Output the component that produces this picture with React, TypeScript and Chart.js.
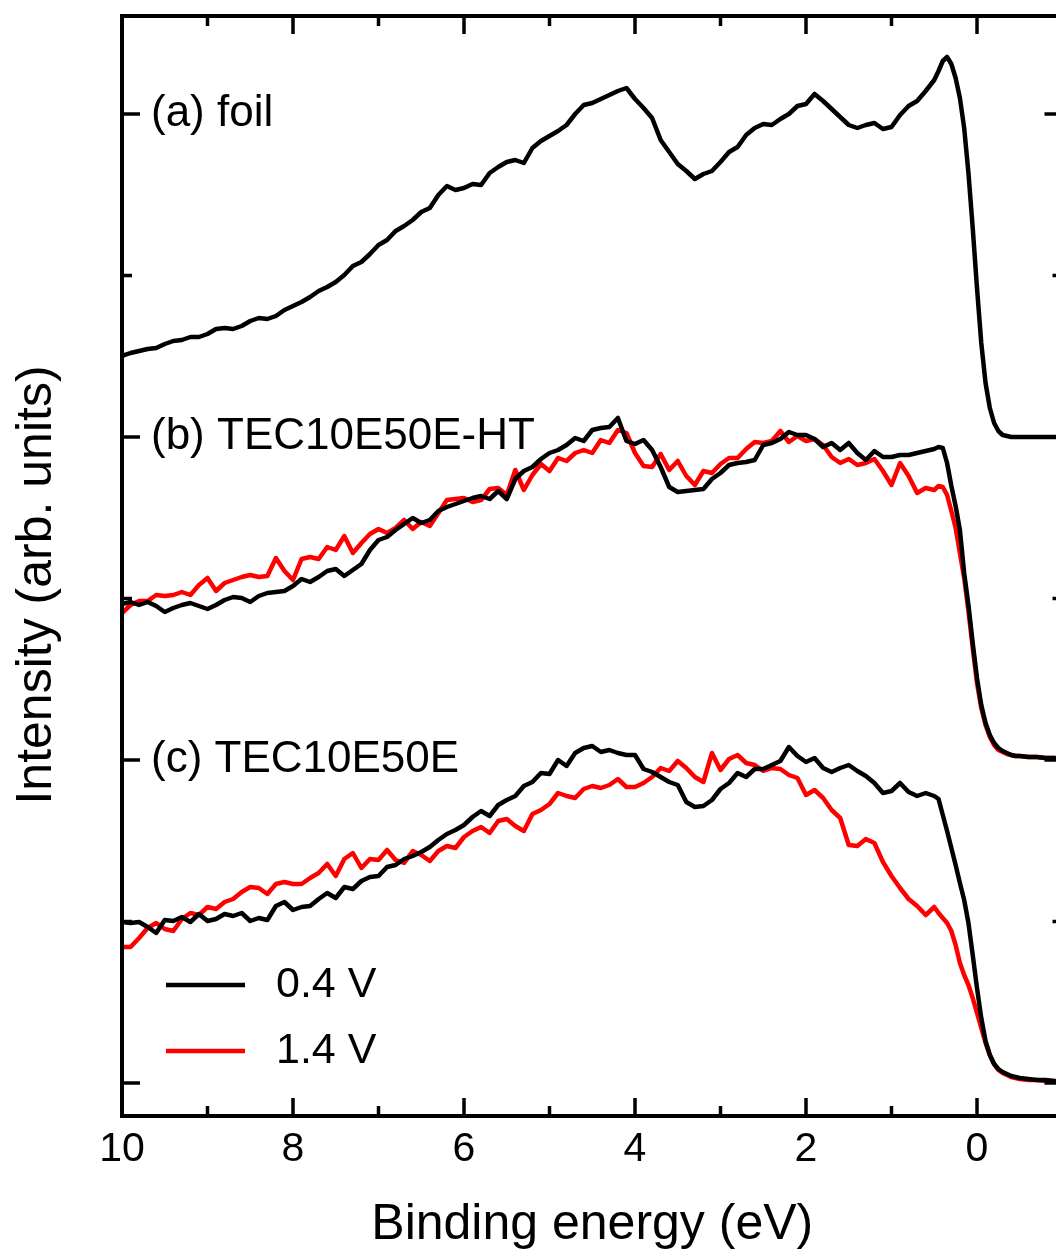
import React, { useEffect, useRef } from "react";
import { Chart, registerables } from "chart.js";

Chart.register(...registerables);

// Binding energy grid (eV); finer near the Fermi edge
const energy = [
  10.0, 9.9, 9.8, 9.7, 9.6, 9.5, 9.4, 9.3, 9.2, 9.1,
  9.0, 8.9, 8.8, 8.7, 8.6, 8.5, 8.4, 8.3, 8.2, 8.1,
  8.0, 7.9, 7.8, 7.7, 7.6, 7.5, 7.4, 7.3, 7.2, 7.1,
  7.0, 6.9, 6.8, 6.7, 6.6, 6.5, 6.4, 6.3, 6.2, 6.1,
  6.0, 5.9, 5.8, 5.7, 5.6, 5.5, 5.4, 5.3, 5.2, 5.1,
  5.0, 4.9, 4.8, 4.7, 4.6, 4.5, 4.4, 4.3, 4.2, 4.1,
  4.0, 3.9, 3.8, 3.7, 3.6, 3.5, 3.4, 3.3, 3.2, 3.1,
  3.0, 2.9, 2.8, 2.7, 2.6, 2.5, 2.4, 2.3, 2.2, 2.1,
  2.0, 1.9, 1.8, 1.7, 1.6, 1.5, 1.4, 1.3, 1.2, 1.1,
  1.0, 0.9, 0.8, 0.7, 0.6, 0.5, 0.45, 0.4, 0.35, 0.3,
  0.25, 0.2, 0.15, 0.1, 0.05, 0.0, -0.05, -0.1, -0.15, -0.2,
  -0.25, -0.3, -0.35, -0.4, -0.45, -0.5, -0.6, -0.7, -0.8, -0.9,
  -1.0,
];

// (a) foil
const foil = [
  727, 730, 732, 734, 735, 739, 742, 743, 746, 746,
  749, 754, 755, 754, 757, 762, 765, 764, 767, 773,
  777, 781, 786, 792, 796, 801, 808, 817, 821, 829,
  838, 843, 852, 857, 863, 871, 875, 888, 897, 893,
  895, 899, 898, 910, 916, 921, 923, 920, 935, 942,
  947, 952, 958, 969, 978, 980, 984, 988, 992, 995,
  984, 975, 965, 943, 931, 919, 912, 904, 909, 912,
  921, 931, 936, 948, 955, 959, 958, 964, 969, 977,
  979, 989, 982, 974, 966, 958, 955, 958, 960, 954,
  956, 968, 977, 982, 992, 1003, 1012, 1022, 1026, 1019,
  1005, 985, 955, 910, 855, 795, 740, 700, 675, 660,
  652, 648, 647, 646, 646, 646, 646, 646, 646, 646,
  646,
];

// (b) TEC10E50E-HT, 0.4 V
const htLow = [
  479, 481, 478, 481, 477, 471, 475, 478, 480, 477,
  474, 478, 483, 486, 485, 481, 487, 490, 491, 492,
  497, 504, 501, 506, 512, 514, 507, 513, 519, 533,
  543, 546, 553, 559, 565, 560, 563, 572, 576, 579,
  582, 585, 587, 584, 592, 584, 604, 612, 616, 624,
  630, 633, 638, 645, 642, 653, 655, 656, 665, 642,
  639, 643, 633, 616, 596, 591, 592, 593, 594, 604,
  610, 618, 620, 621, 623, 638, 640, 644, 651, 648,
  648, 644, 636, 640, 633, 640, 630, 623, 632, 626,
  626, 628, 628, 630, 632, 634, 636, 635, 620, 597,
  577, 553, 510, 478, 440, 405, 378, 360, 348, 340,
  335, 332, 330, 328, 327, 327, 326, 326, 325, 325,
  324,
];

// (b) TEC10E50E-HT, 1.4 V
const htHigh = [
  470, 478, 482, 482, 488, 487, 488, 491, 488, 498,
  505, 492, 500, 503, 506, 508, 506, 507, 525, 512,
  503, 524, 526, 524, 536, 533, 547, 530, 540, 549,
  554, 550, 555, 563, 554, 561, 557, 570, 583, 584,
  585, 581, 583, 594, 595, 588, 613, 593, 608, 619,
  612, 625, 622, 630, 633, 630, 643, 640, 653, 650,
  630, 617, 616, 629, 613, 622, 607, 598, 612, 610,
  619, 625, 625, 634, 641, 640, 642, 652, 641, 647,
  642, 644, 638, 626, 620, 624, 618, 620, 624, 612,
  598, 620, 607, 590, 595, 593, 597, 596, 588, 572,
  555, 530, 505, 472, 435, 400, 375, 358, 346, 338,
  333, 331, 329, 328, 327, 327, 326, 326, 325, 325,
  324,
];

// (c) TEC10E50E, 0.4 V
const eLow = [
  161, 160, 161, 156, 150, 163, 162, 166, 161, 169,
  162, 164, 169, 167, 170, 162, 165, 163, 177, 181,
  173, 176, 177, 184, 190, 185, 196, 194, 202, 206,
  207, 216, 218, 224, 227, 231, 236, 243, 249, 253,
  258, 266, 272, 267, 278, 283, 287, 297, 301, 310,
  309, 323, 317, 330, 335, 337, 331, 333, 330, 328,
  328, 314, 311, 306, 301, 298, 281, 276, 277, 283,
  294, 300, 310, 306, 314, 314, 318, 322, 336, 327,
  321, 325, 315, 311, 315, 318, 312, 307, 300, 290,
  292, 300, 291, 287, 290, 287, 284, 268, 252, 235,
  218, 200, 183, 160, 128, 95, 65, 42, 28, 19,
  14, 11, 9, 7, 6, 5, 4, 3, 3, 2,
  1,
];

// (c) TEC10E50E, 1.4 V
const eHigh = [
  136, 136, 145, 155, 160, 154, 152, 164, 170, 168,
  176, 174, 181, 184, 191, 196, 195, 189, 199, 201,
  199, 199, 205, 210, 219, 207, 224, 230, 215, 224,
  223, 233, 223, 220, 232, 228, 222, 232, 237, 235,
  246, 252, 256, 250, 262, 264, 257, 252, 269, 273,
  279, 290, 287, 285, 294, 297, 295, 298, 304, 296,
  296, 300, 306, 315, 312, 322, 315, 306, 301, 330,
  313, 324, 328, 320, 318, 312, 315, 314, 308, 305,
  288, 293, 285, 273, 265, 238, 237, 244, 240, 221,
  207, 195, 184, 177, 168, 176, 170, 165, 160, 152,
  138, 120, 108, 98, 85, 70, 55, 40, 28, 19,
  13, 10, 8, 6, 5, 4, 3, 3, 2, 2,
  1,
];

const xMajorTicks = [10, 8, 6, 4, 2, 0];
const xMinorTicks = [9, 7, 5, 3, 1, -1];
const yMajorTicks = [0, 323, 646, 969];
const yMinorTicks = [161.5, 484.5, 807.5];
const panelLabels = ["(a) foil", "(b) TEC10E50E-HT", "(c) TEC10E50E"];
const panelLevels = [969, 646, 323];
const legendLabels = ["0.4 V", "1.4 V"];
const legendColors = ["#000000", "#ff0000"];

const FONT = '"Liberation Sans", Arial, Helvetica, sans-serif';

const toPoints = (vals: number[]) => energy.map((e, i) => ({ x: e, y: vals[i] }));

const decorPlugin = {
  id: "decor",
  afterDraw(chart: any) {
    const { ctx, chartArea: a } = chart;
    const xs = chart.scales.x;
    const ys = chart.scales.y;
    ctx.save();
    ctx.strokeStyle = "#000";
    ctx.lineWidth = 4;
    ctx.lineCap = "butt";
    ctx.strokeRect(a.left, a.top, a.right - a.left, a.bottom - a.top);
    const seg = (x1: number, y1: number, x2: number, y2: number) => {
      ctx.beginPath();
      ctx.moveTo(x1, y1);
      ctx.lineTo(x2, y2);
      ctx.stroke();
    };
    ctx.lineWidth = 3.5;
    const xt = (vals: number[], len: number) => {
      for (const v of vals) {
        const p = xs.getPixelForValue(v);
        seg(p, a.bottom, p, a.bottom - len);
        seg(p, a.top, p, a.top + len);
      }
    };
    const yt = (vals: number[], len: number) => {
      for (const v of vals) {
        const p = ys.getPixelForValue(v);
        seg(a.left, p, a.left + len, p);
        seg(a.right, p, a.right - len, p);
      }
    };
    xt(xMajorTicks, 18);
    xt(xMinorTicks, 10);
    yt(yMajorTicks, 18);
    yt(yMinorTicks, 10);

    ctx.fillStyle = "#000";
    ctx.textAlign = "left";
    ctx.textBaseline = "middle";
    ctx.font = `44px ${FONT}`;
    panelLabels.forEach((t, i) => {
      ctx.fillText(t, a.left + 29, ys.getPixelForValue(panelLevels[i]));
    });

    // legend
    ctx.font = `43px ${FONT}`;
    ctx.textBaseline = "alphabetic";
    const legY = [985, 1051];
    legendLabels.forEach((t, i) => {
      ctx.strokeStyle = legendColors[i];
      ctx.lineWidth = 4.5;
      seg(a.left + 44, legY[i], a.left + 123, legY[i]);
      ctx.fillText(t, a.left + 154, legY[i] + 12);
    });

    // y-axis title
    ctx.translate(37, 585);
    ctx.rotate(-Math.PI / 2);
    ctx.textAlign = "center";
    ctx.textBaseline = "middle";
    ctx.font = `50px ${FONT}`;
    ctx.fillText("Intensity (arb. units)", 0, 0);
    ctx.restore();
  },
};

export default function App() {
  const ref = useRef<HTMLCanvasElement | null>(null);
  useEffect(() => {
    if (!ref.current) return;
    const line = (vals: number[], color: string) => ({
      data: toPoints(vals),
      borderColor: color,
      backgroundColor: color,
      borderWidth: 4.5,
      pointRadius: 0,
      tension: 0,
      fill: false,
      borderJoinStyle: "round" as const,
      borderCapStyle: "round" as const,
    });
    const chart = new Chart(ref.current, {
      type: "line",
      data: {
        datasets: [
          line(foil, "#000000"),
          line(htLow, "#000000"),
          line(eLow, "#000000"),
          line(htHigh, "#ff0000"),
          line(eHigh, "#ff0000"),
        ],
      },
      options: {
        responsive: false,
        devicePixelRatio: 1,
        animation: false,
        layout: { padding: { left: 0, top: 16, right: 17.5, bottom: 0 } },
        plugins: { legend: { display: false }, tooltip: { enabled: false } },
        scales: {
          x: {
            type: "linear",
            reverse: true,
            min: -1,
            max: 10,
            grid: { display: false, drawTicks: false },
            border: { display: false },
            ticks: {
              color: "#000",
              font: { size: 41, family: FONT },
              padding: 9,
              autoSkip: false,
              maxRotation: 0,
            },
            afterBuildTicks: (s: any) => {
              s.ticks = xMajorTicks.map((v) => ({ value: v }));
            },
            afterFit: (s: any) => {
              s.height = 141;
            },
            title: {
              display: true,
              text: "Binding energy (eV)",
              color: "#000",
              font: { size: 50, family: FONT },
              padding: { top: 0, bottom: 2 },
            },
          },
          y: {
            type: "linear",
            min: -33,
            max: 1067,
            grid: { display: false, drawTicks: false },
            border: { display: false },
            ticks: { display: false },
            afterFit: (s: any) => {
              s.width = 122;
            },
          },
        },
      },
      plugins: [decorPlugin],
    });
    return () => chart.destroy();
  }, []);

  return (
    <div
      style={{
        position: "fixed",
        left: 0,
        top: 0,
        width: 1056,
        height: 1257,
        overflow: "hidden",
        background: "#fff",
      }}
    >
      <canvas ref={ref} width={1080} height={1257} style={{ display: "block", width: 1080, height: 1257 }} />
    </div>
  );
}
